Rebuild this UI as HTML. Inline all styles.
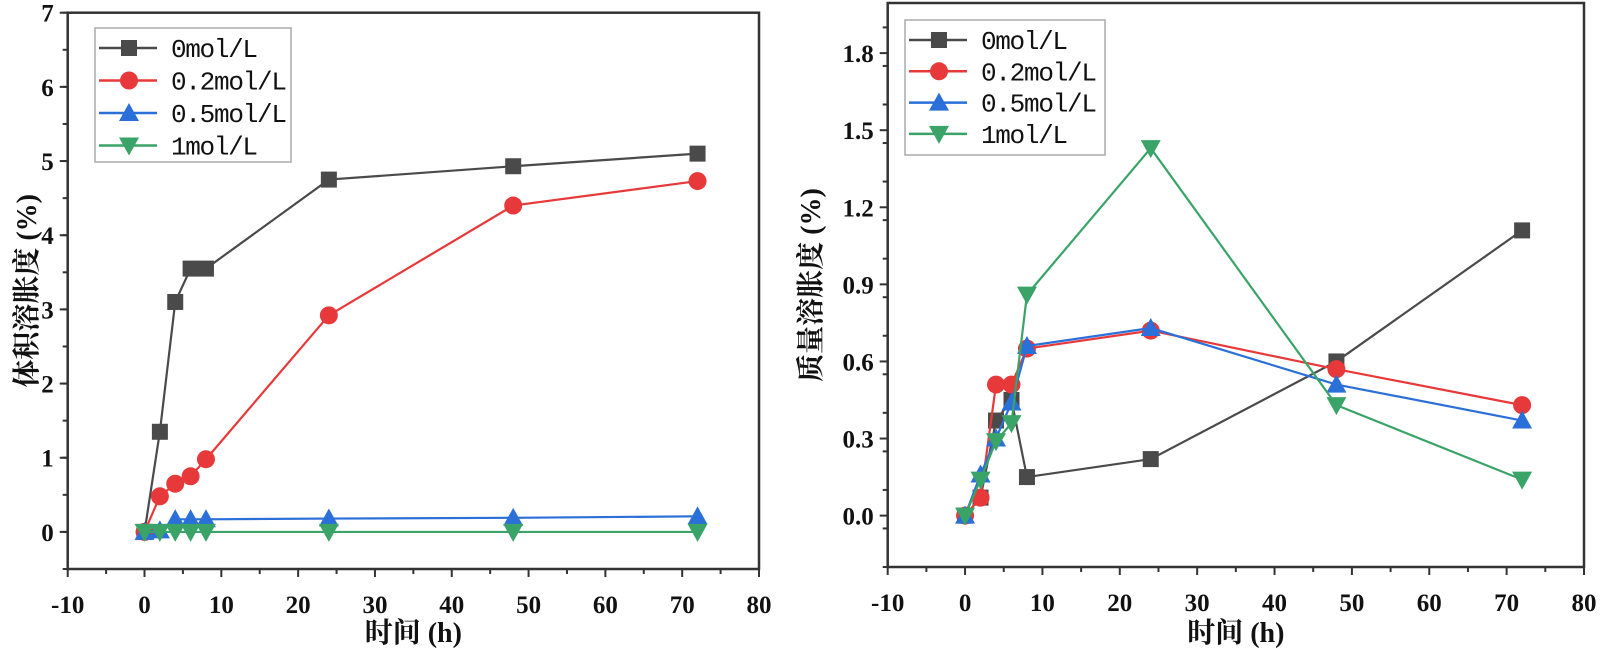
<!DOCTYPE html>
<html><head><meta charset="utf-8"><style>
html,body{margin:0;padding:0;background:#fff;width:1600px;height:649px;overflow:hidden}
svg text{font-family:"Liberation Serif","Noto Serif CJK SC",serif}
svg text.mono{font-family:"Liberation Mono",monospace}
</style></head><body>
<svg id="c" width="1600" height="649" xmlns="http://www.w3.org/2000/svg"></svg>
<script>
const timesH = [0, 2, 4, 6, 8, 24, 48, 72];
const seriesNames = ["0mol/L", "0.2mol/L", "0.5mol/L", "1mol/L"];
const volume0 = [0, 1.35, 3.1, 3.55, 3.55, 4.75, 4.93, 5.1];
const volume02 = [0, 0.48, 0.65, 0.75, 0.98, 2.92, 4.4, 4.73];
const volume05 = [0, 0.02, 0.17, 0.17, 0.17, 0.18, 0.19, 0.21];
const volume1 = [0, 0, 0, 0, 0, 0, 0, 0];
const mass0 = [0, 0.07, 0.37, 0.45, 0.15, 0.22, 0.6, 1.11];
const mass02 = [0, 0.07, 0.51, 0.51, 0.65, 0.72, 0.57, 0.43];
const mass05 = [0, 0.16, 0.3, 0.44, 0.66, 0.73, 0.51, 0.37];
const mass1 = [0, 0.14, 0.29, 0.36, 0.86, 1.43, 0.43, 0.14];
const xTicks = [-10, 0, 10, 20, 30, 40, 50, 60, 70, 80];
const leftYTicks = [0, 1, 2, 3, 4, 5, 6, 7];
const rightYTicks = [0, 0.3, 0.6, 0.9, 1.2, 1.5, 1.8];

const colors = ["#4a4a4a", "#e8393a", "#2b6fd8", "#3aa468"];
const markers = ["square", "circle", "up", "down"];
const NS = "http://www.w3.org/2000/svg";
const svg = document.getElementById("c");
function mk(tag, attrs, parent) {
  const e = document.createElementNS(NS, tag);
  for (const k in attrs) e.setAttribute(k, attrs[k]);
  (parent || svg).appendChild(e);
  return e;
}
function marker(g, type, x, y, col) {
  let m;
  if (type === "square") m = mk("rect", {x: x-8, y: y-8, width: 16, height: 16, fill: col}, g);
  else if (type === "circle") m = mk("circle", {cx: x, cy: y, r: 9, fill: col}, g);
  else if (type === "up") m = mk("polygon", {points: `${x},${y-10} ${x-10},${y+8} ${x+10},${y+8}`, fill: col}, g);
  else m = mk("polygon", {points: `${x},${y+10} ${x-10},${y-8} ${x+10},${y-8}`, fill: col}, g);
  return m;
}
function chart(cfg) {
  const {L, R, T, B, xmin, xmax, ymin, ymax, yTicks, yMinorStep, fmt, data, title, titleX, legend, prefix} = cfg;
  const sx = v => L + (v - xmin) / (xmax - xmin) * (R - L);
  const sy = v => B - (v - ymin) / (ymax - ymin) * (B - T);
  const g = mk("g", {});
  
  
  const frame = mk("rect", {x: L, y: T, width: R-L, height: B-T, fill: "none", stroke: "#333", "stroke-width": 2.5}, g);
  
  
  xTicks.forEach((t, i) => {
    const x = sx(t);
    mk("line", {x1: x, y1: B, x2: x, y2: B+8, stroke: "#333", "stroke-width": 2}, g);
    if (i < xTicks.length - 1) { const xm = sx(t+5); mk("line", {x1: xm, y1: B, x2: xm, y2: B+5, stroke: "#333", "stroke-width": 2}, g); }
    const tx = mk("text", {x: x, y: B+44, "text-anchor": "middle", "font-size": 25, "font-weight": "bold", fill: "#111"}, g);
    tx.textContent = t;
    
    
  });
  yTicks.forEach(t => {
    const y = sy(t);
    mk("line", {x1: L, y1: y, x2: L-8, y2: y, stroke: "#333", "stroke-width": 2}, g);
    const ty = mk("text", {x: L-14, y: y+9, "text-anchor": "end", "font-size": 25, "font-weight": "bold", fill: "#111"}, g);
    ty.textContent = fmt(t);
    
    
  });
  for (let v = ymin; v <= ymax + 1e-9; v += yMinorStep) {
    const y = sy(v);
    mk("line", {x1: L, y1: y, x2: L-5, y2: y, stroke: "#333", "stroke-width": 2}, g);
  }
  const xt = mk("text", {x: (L+R)/2, y: 642, "text-anchor": "middle", "font-size": 28, "font-weight": "bold", fill: "#111"}, g);
  xt.textContent = "时间 (h)";
  
  
  const yt = mk("text", {x: 0, y: 0, transform: `translate(${titleX},${(T+B)/2}) rotate(-90)`, "text-anchor": "middle", "font-size": 28, "font-weight": "bold", fill: "#111"}, g);
  yt.textContent = title;
  
  
  data.forEach((vals, si) => {
    const sg = mk("g", {}, g);
    
    
    const pts = vals.map((v, i) => sx(timesH[i]) + "," + sy(v)).join(" ");
    mk("polyline", {points: pts, fill: "none", stroke: colors[si], "stroke-width": 2.2}, sg);
    vals.forEach((v, i) => {
      const m = marker(sg, markers[si], sx(timesH[i]), sy(v), colors[si]);
      
      
    });
  });
  const lg = mk("g", {}, g);
  
  
  mk("rect", {x: legend.x, y: legend.y, width: legend.w, height: legend.h, fill: "#fff", stroke: "#aaa", "stroke-width": 1.5}, lg);
  seriesNames.forEach((n, si) => {
    const y = legend.y + 20 + si * legend.dy;
    const eg = mk("g", {}, lg);
    
    
    mk("line", {x1: legend.x+4, y1: y, x2: legend.x+62, y2: y, stroke: colors[si], "stroke-width": 2.5}, eg);
    marker(eg, markers[si], legend.x+34, y, colors[si]);
    const t = mk("text", {x: legend.x+76, y: y+9, "font-size": 26, fill: "#111", "class": "mono", "textLength": n.length * 14.5}, eg);
    t.textContent = n;
  });
}
chart({L: 67.7, R: 759, T: 12.7, B: 569, xmin: -10, xmax: 80, ymin: -0.5, ymax: 7, yTicks: leftYTicks, yMinorStep: 0.5,
  fmt: v => String(v), data: [volume0, volume02, volume05, volume1], title: "体积溶胀度 (%)", titleX: 36,
  legend: {x: 95, y: 28, w: 196, h: 134, dy: 32.5}, prefix: "volume"});
chart({L: 887.7, R: 1584, T: 3, B: 567, xmin: -10, xmax: 80, ymin: -0.2, ymax: 1.995, yTicks: rightYTicks, yMinorStep: 0.15,
  fmt: v => v.toFixed(1), data: [mass0, mass02, mass05, mass1], title: "质量溶胀度 (%)", titleX: 820,
  legend: {x: 905, y: 20, w: 200, h: 135, dy: 31.3}, prefix: "mass"});
</script>
</body></html>
